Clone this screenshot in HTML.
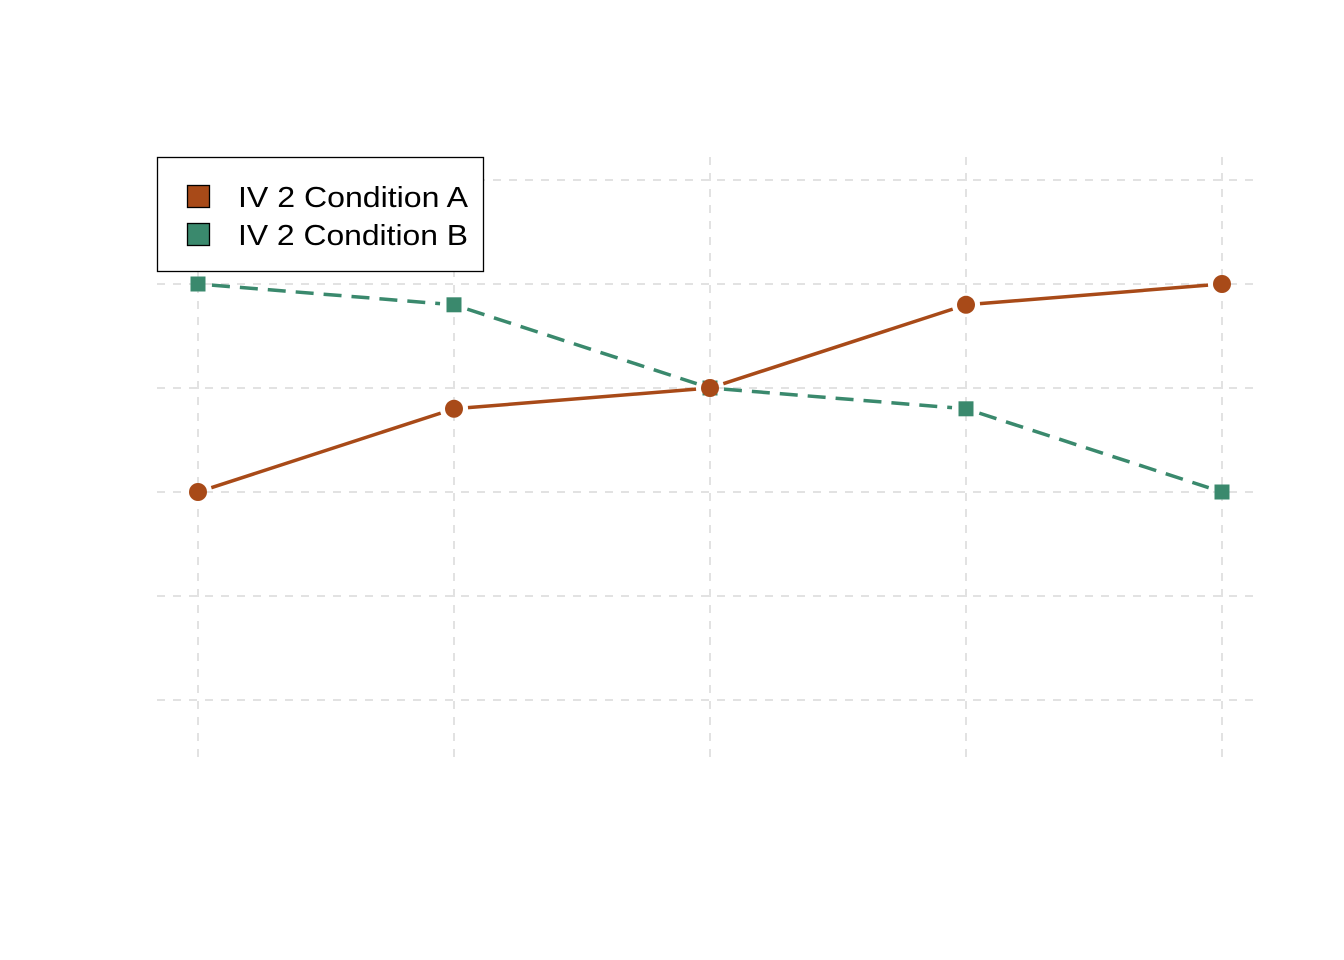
<!DOCTYPE html>
<html><head><meta charset="utf-8"><style>
html,body{margin:0;padding:0;background:#fff;}
svg{display:block;font-family:"Liberation Sans",Arial,sans-serif;}
</style></head><body>
<svg id="chart" width="1344" height="960" viewBox="0 0 1344 960" xmlns="http://www.w3.org/2000/svg">
<g id="grid"></g>
<g id="series"></g>
<g>
<rect x="157.5" y="157.5" width="326" height="114" fill="#fff" stroke="#000" stroke-width="1.3"/>
<g>
<rect x="187.5" y="185.5" width="22" height="22" fill="#A84A18" stroke="#000" stroke-width="1.3"/>
<text x="238" y="207" font-size="29" textLength="230" lengthAdjust="spacingAndGlyphs" fill="#000">IV 2 Condition A</text>
</g>
<g>
<rect x="187.5" y="223.5" width="22" height="22" fill="#3A896D" stroke="#000" stroke-width="1.3"/>
<text x="238" y="245" font-size="29" textLength="230" lengthAdjust="spacingAndGlyphs" fill="#000">IV 2 Condition B</text>
</g>
</g>
</svg>
<script>
const categories = [1, 2, 3, 4, 5];
const seriesA = [3, 3.8, 4, 4.8, 5];
const seriesB = [5, 4.8, 4, 3.8, 3];
const yTicks = [1, 2, 3, 4, 5, 6];

const NS = "http://www.w3.org/2000/svg";
function xScale(i){ return 198 + (i - 1) * 256; }
function yScale(v){ return 700 - (v - 1) * 104; }
function mk(tag, attrs, parent){
  const e = document.createElementNS(NS, tag);
  for (const k in attrs) e.setAttribute(k, attrs[k]);
  parent.appendChild(e); return e;
}
const grid = document.getElementById('grid');
const ser = document.getElementById('series');
yTicks.forEach(t => {
  const l = mk('line', {x1:157, x2:1257, y1:yScale(t), y2:yScale(t), stroke:'#d9d9d9', 'stroke-width':1.5, 'stroke-dasharray':'8 8'}, grid);
  
  
});
categories.forEach(c => {
  const l = mk('line', {x1:xScale(c), x2:xScale(c), y1:157, y2:765, stroke:'#d9d9d9', 'stroke-width':1.5, 'stroke-dasharray':'8 8'}, grid);
  
  
});
function drawSeries(vals, color, dash, shape, name){
  const gap = 14;
  for (let i = 0; i < vals.length - 1; i++){
    const x1 = xScale(categories[i]), y1 = yScale(vals[i]);
    const x2 = xScale(categories[i+1]), y2 = yScale(vals[i+1]);
    const d = Math.hypot(x2-x1, y2-y1), ux = (x2-x1)/d, uy = (y2-y1)/d;
    const l = mk('line', {x1:x1+ux*gap, y1:y1+uy*gap, x2:x2-ux*gap, y2:y2-uy*gap, stroke:color, 'stroke-width':3.5, 'stroke-dasharray':dash}, ser);
    
    
  }
  vals.forEach((v, i) => {
    const x = xScale(categories[i]), y = yScale(v);
    let m;
    if (shape === 'circle') m = mk('circle', {cx:x, cy:y, r:9, fill:color}, ser);
    else m = mk('rect', {x:x-7.5, y:y-7.5, width:15, height:15, fill:color}, ser);
    
    
  });
}
drawSeries(seriesB, '#3A896D', '18 10', 'square', 'condition-b');
drawSeries(seriesA, '#A84A18', 'none', 'circle', 'condition-a');
</script>
</body></html>
